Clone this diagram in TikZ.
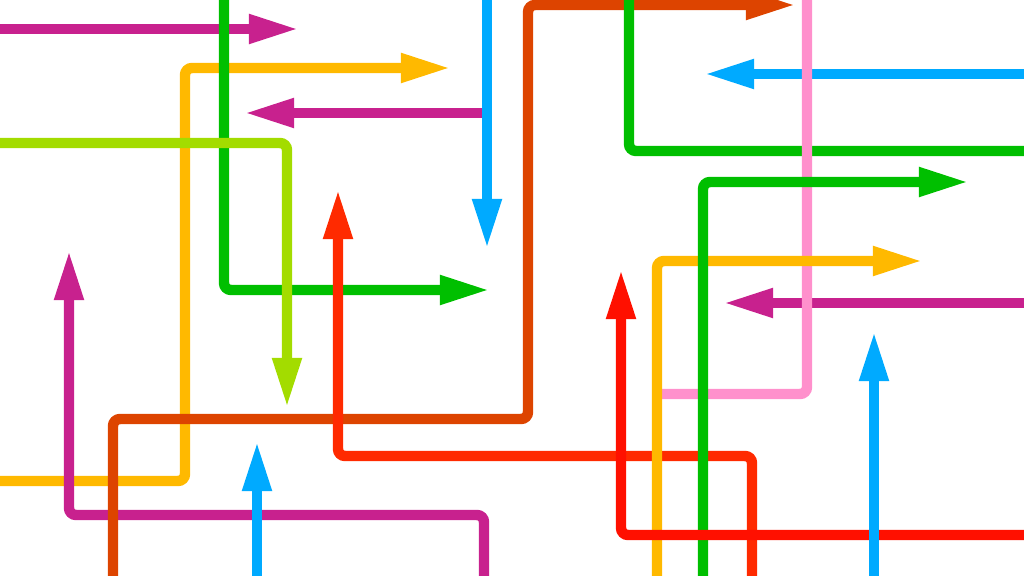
\documentclass[tikz,border=0pt]{standalone}
\usepackage{tikz}
\usetikzlibrary{arrows.meta}
\definecolor{Magenta}{HTML}{C8218E}
\definecolor{Green}{HTML}{00BF00}
\definecolor{Gold}{HTML}{FFB900}
\definecolor{Lime}{HTML}{A3DC00}
\definecolor{Sky}{HTML}{00AAFF}
\definecolor{Rust}{HTML}{DD4400}
\definecolor{Scarlet}{HTML}{FF2A00}
\definecolor{Crimson}{HTML}{FF1000}
\definecolor{Pink}{HTML}{FF90CC}
\tikzstyle{Route} = [
line width=0.104cm,
rounded corners=0.07cm]
\tikzstyle{Arrow} = [
Route,
-{Triangle[length=0.5cm, width=0.27cm]}]

\begin{document}
\begin{tikzpicture}[x=0.01cm, y=-0.01cm]
    \useasboundingbox (0,0) rectangle (1024,576);
    \clip (0,0) rectangle (1024,576);

    % left half
    \draw[Arrow, Magenta] (0,29) -- (299,29);
    \draw[Arrow, Gold] (0,481) -- (185,481) -- (185,68) -- (451,68);
    \draw[Arrow, Green] (224,0) -- (224,290) -- (490,290);
    \draw[Arrow, Lime] (0,143) -- (287,143) -- (287,408);
    \draw[Arrow, Magenta] (482,113) -- (244,113);
    \draw[Arrow, Sky] (487,0) -- (487,249);
    \draw[Arrow, Magenta] (484,576) -- (484,515) -- (69,515) -- (69,250);
    \draw[Arrow, Sky] (257,576) -- (257,441);
    \draw[Arrow, Rust] (113,576) -- (113,419) -- (528,419) -- (528,5) -- (796,5);
    \draw[Arrow, Scarlet] (752,576) -- (752,456) -- (338,456) -- (338,189);

    % right half
    \draw[Route, Green] (629,0) -- (629,151) -- (1024,151);
    \draw[Arrow, Sky] (1024,74) -- (704,74);
    \draw[Arrow, Magenta] (1024,303) -- (723,303);
    \draw[Route, Pink] (807,0) -- (807,394) -- (653,394);
    \draw[Arrow, Gold] (657,576) -- (657,261) -- (923,261);
    \draw[Arrow, Green] (703,576) -- (703,182) -- (969,182);
    \draw[Arrow, Crimson] (1024,535) -- (621,535) -- (621,269);
    \draw[Arrow, Sky] (874,576) -- (874,331);
\end{tikzpicture}
\end{document}
